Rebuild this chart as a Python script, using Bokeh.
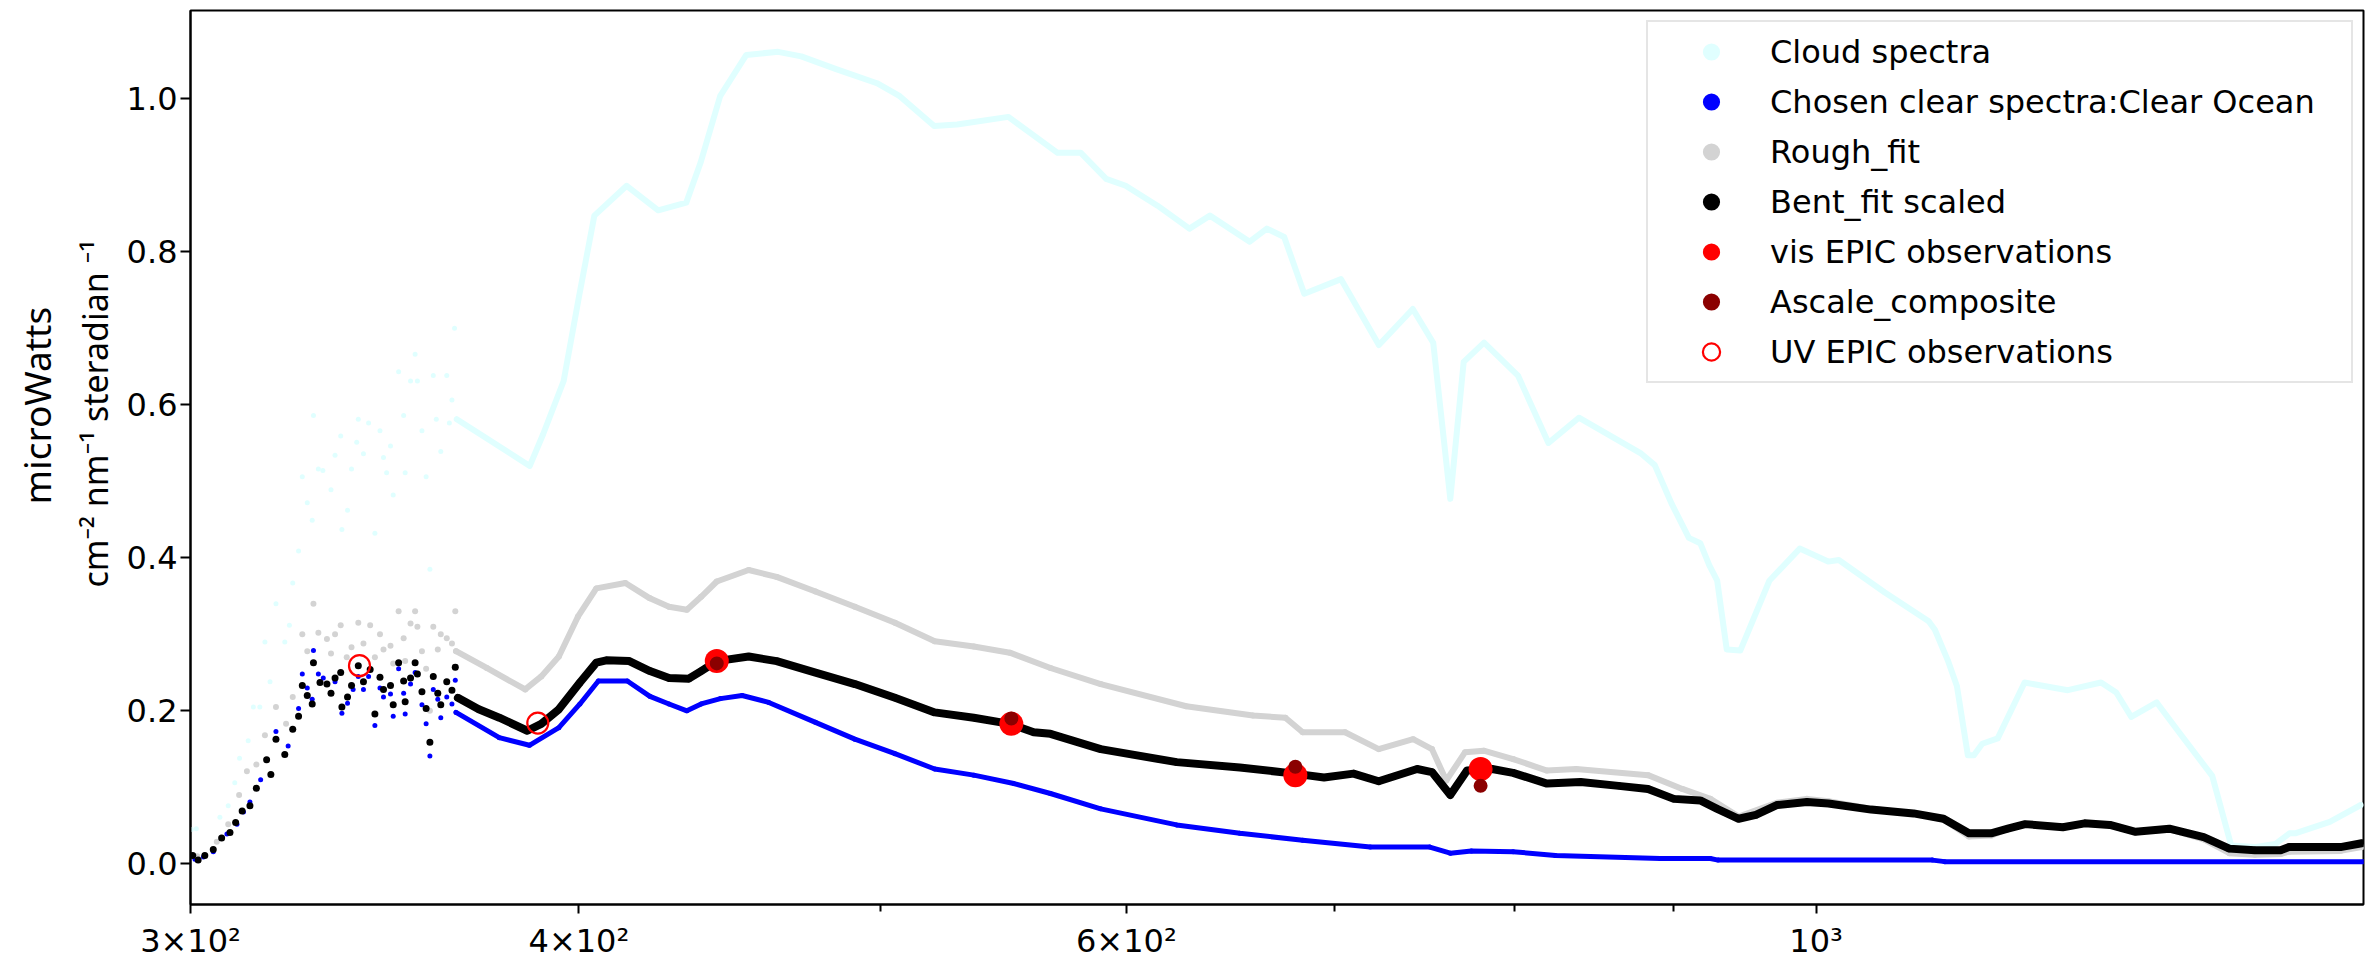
import numpy as np
from bokeh.plotting import figure
from bokeh.models import (Range1d, FixedTicker, PrintfTickFormatter, Legend,
                          LegendItem, Title)
from bokeh.embed import file_html
from bokeh.resources import INLINE

# ---------------- data (wavelength nm, microWatts cm-2 nm-1 sr-1) ----------------
cloud_nm = [300.2, 301.3, 306.6, 308.5, 310.0, 311.1, 313.1, 314.3, 315.8, 317.0, 318.2,
            319.6, 321.7, 322.8, 323.6, 325.0, 325.9, 327.1, 328.3, 328.6, 329.8, 330.9,
            332.9, 333.9, 335.3, 335.6, 337.0, 338.0, 339.3, 339.7, 341.0, 342.3, 343.9,
            345.2, 346.1, 346.9, 347.9, 348.6, 350.0, 351.3, 351.7, 353.1, 354.3, 354.9,
            356.1, 357.2, 358.2, 359.1, 359.9, 361.1, 362.7, 363.4, 364.1, 364.8,
            365.4, 385.7, 389.5, 395.5, 400.1, 404.6, 414.4, 424.2, 433.1, 437.7, 444.1,
            452.8, 463.6, 471.6, 484.2, 498.8, 507.3, 520.4, 529.3, 549.8, 570.2, 580.1,
            591.1, 599.7, 614.0, 628.7, 638.3, 657.4, 665.8, 674.4, 684.5, 703.4, 723.4,
            741.8, 753.1, 762.7, 770.3, 782.0, 801.9, 820.2, 838.9, 878.6, 887.4, 898.7,
            910.1, 917.8, 924.0, 929.4, 936.0, 945.5, 966.0, 988.0, 1009.0, 1017.0,
            1052.0, 1087.0, 1092.0, 1102.5, 1110.0, 1119.0, 1124.0, 1131.0, 1144.0,
            1167.0, 1205.0, 1235.0, 1249.0, 1263.0, 1287.0, 1309.0, 1341.0, 1360.0,
            1383.5, 1405.0, 1420.0, 1426.0, 1463.0, 1497.0]
cloud_val = [0.045, 0.046, 0.061, 0.076, 0.106, 0.138, 0.161, 0.205, 0.205, 0.290, 0.238,
             0.340, 0.290, 0.312, 0.367, 0.409, 0.506, 0.472, 0.449, 0.586, 0.516, 0.514,
             0.489, 0.534, 0.559, 0.437, 0.462, 0.516, 0.551, 0.581, 0.536, 0.576, 0.432,
             0.566, 0.531, 0.511, 0.546, 0.482, 0.643, 0.586, 0.511, 0.631, 0.666, 0.631,
             0.566, 0.506, 0.385, 0.638, 0.581, 0.539, 0.638, 0.576, 0.606, 0.700,
             0.581, 0.520, 0.561, 0.631, 0.743, 0.847, 0.886, 0.854, 0.864, 0.916, 1.003,
             1.057, 1.061, 1.055, 1.038, 1.020, 1.003, 0.964, 0.966, 0.976, 0.929, 0.929,
             0.895, 0.886, 0.860, 0.830, 0.847, 0.813, 0.830, 0.819, 0.745, 0.764, 0.678,
             0.725, 0.681, 0.477, 0.656, 0.681, 0.638, 0.550, 0.583, 0.536, 0.521, 0.470,
             0.426, 0.419, 0.390, 0.370, 0.280, 0.279, 0.370, 0.412, 0.395, 0.397,
             0.355, 0.317, 0.306, 0.266, 0.232, 0.142, 0.142, 0.157, 0.164,
             0.237, 0.227, 0.237, 0.224, 0.192, 0.211, 0.171, 0.115, 0.024,
             0.022, 0.026, 0.040, 0.040, 0.055, 0.077]

clear_nm = [301.0, 302.9, 305.1, 308.2, 310.5, 312.0, 313.5, 316.0, 319.6, 322.5, 325.0,
            325.9, 327.1, 328.3, 328.6, 329.8, 331.0, 333.9, 335.6, 337.0, 338.4, 339.7,
            341.0, 342.3, 343.9, 345.2, 346.1, 347.9, 348.6, 350.0, 351.3, 351.7, 353.1,
            354.3, 356.1, 357.2, 358.2, 359.1, 360.3, 361.1, 362.7, 364.1, 365.0,
            365.2, 377.1, 385.6, 394.1, 400.3, 405.8, 414.6, 421.6, 427.6, 433.3, 437.9,
            444.2, 451.4, 460.4, 476.6, 490.7, 505.5, 520.6, 535.9, 552.0, 567.2, 588.7,
            622.8, 652.6, 683.7, 718.8, 751.2, 762.7, 774.7, 799.0, 824.5, 891.0, 924.7,
            930.0, 1090.0, 1100.0, 1500.0]
clear_val = [0.006, 0.009, 0.016, 0.039, 0.052, 0.068, 0.081, 0.110, 0.173, 0.154, 0.203,
             0.248, 0.230, 0.215, 0.279, 0.248, 0.243, 0.238, 0.197, 0.210, 0.228, 0.245,
             0.228, 0.245, 0.181, 0.230, 0.218, 0.222, 0.193, 0.255, 0.223, 0.196, 0.235,
             0.250, 0.208, 0.183, 0.141, 0.228, 0.215, 0.191, 0.218, 0.209, 0.240,
             0.198, 0.165, 0.155, 0.178, 0.209, 0.239, 0.239, 0.219, 0.209, 0.200, 0.209,
             0.216, 0.220, 0.211, 0.185, 0.163, 0.144, 0.124, 0.116, 0.105, 0.092, 0.072,
             0.051, 0.040, 0.031, 0.022, 0.022, 0.014, 0.017, 0.016, 0.011, 0.007, 0.007,
             0.005, 0.005, 0.003, 0.003]

rough_nm = [301.5, 305.9, 308.5, 311.0, 312.8, 315.0, 317.0, 319.6, 322.0, 323.6, 325.9,
            327.1, 328.6, 329.8, 331.9, 332.9, 333.9, 335.3, 336.8, 338.0, 339.7, 341.0,
            342.7, 343.9, 345.2, 346.1, 347.9, 348.6, 350.0, 351.3, 351.7, 353.1, 354.3,
            354.9, 356.1, 357.2, 358.2, 359.1, 360.3, 361.1, 362.7, 364.1, 365.0,
            365.2, 373.6, 384.4, 389.0, 394.1, 399.7, 405.2, 414.0, 421.6, 427.6, 433.3,
            437.9, 443.0, 453.6, 463.1, 476.6, 490.7, 505.5, 520.6, 535.9, 550.4, 567.2,
            588.7, 627.2, 659.0, 675.0, 683.7, 705.5, 723.3, 742.0, 752.4, 760.4, 771.1,
            781.8, 799.0, 819.3, 837.2, 883.0, 905.7, 924.7, 944.3, 971.7, 993.3, 1009.2,
            1041.6, 1074.9, 1099.0, 1119.9, 1138.4, 1152.6, 1167.5, 1200.6, 1220.1,
            1243.2, 1267.0, 1299.1, 1332.6, 1358.1, 1384.1, 1410.6, 1419.5, 1474.6, 1498.0]
rough_val = [0.010, 0.029, 0.052, 0.090, 0.121, 0.130, 0.168, 0.205, 0.183, 0.218, 0.300,
             0.278, 0.340, 0.302, 0.294, 0.275, 0.300, 0.312, 0.270, 0.283, 0.315, 0.288,
             0.312, 0.270, 0.300, 0.280, 0.285, 0.262, 0.330, 0.295, 0.265, 0.314, 0.330,
             0.310, 0.278, 0.255, 0.200, 0.310, 0.280, 0.300, 0.295, 0.288, 0.330,
             0.278, 0.256, 0.228, 0.245, 0.271, 0.323, 0.360, 0.367, 0.347, 0.336, 0.332,
             0.349, 0.369, 0.384, 0.375, 0.356, 0.336, 0.315, 0.291, 0.284, 0.276, 0.256,
             0.235, 0.206, 0.194, 0.191, 0.172, 0.172, 0.150, 0.163, 0.150, 0.109, 0.146,
             0.148, 0.137, 0.122, 0.124, 0.116, 0.098, 0.085, 0.062, 0.080, 0.085, 0.082,
             0.072, 0.066, 0.058, 0.036, 0.037, 0.046, 0.052, 0.049, 0.053,
             0.050, 0.042, 0.045, 0.032, 0.014, 0.012, 0.013, 0.016, 0.017, 0.022]

bent_nm = [300.5, 301.7, 303.2, 305.1, 307.0, 308.9, 310.2, 311.7, 313.5, 315.0, 317.4,
           318.4, 319.6, 321.7, 323.6, 325.0, 325.9, 327.1, 328.3, 328.6, 330.2, 331.9,
           332.9, 333.9, 335.3, 335.6, 337.0, 338.0, 339.7, 341.0, 342.7, 343.9, 345.2,
           346.1, 347.9, 348.6, 350.0, 351.3, 351.7, 353.1, 354.3, 354.9, 356.1, 357.2,
           358.2, 359.1, 360.3, 361.1, 362.7, 364.1, 365.0,
           365.7, 371.4, 377.1, 385.0, 389.0, 394.1, 400.3, 405.2, 408.2, 415.2, 421.6,
           427.6, 433.9, 437.9, 443.0, 453.6, 463.1, 476.6, 490.7, 505.5, 520.6, 535.9,
           550.4, 560.2, 567.2, 588.7, 622.8, 652.6, 679.6, 694.6, 709.9, 723.3, 744.2,
           752.4, 762.7, 772.2, 786.7, 799.0, 819.3, 840.0, 864.0, 883.0, 900.0, 917.8,
           929.4, 944.3, 956.4, 971.7, 993.3, 1009.2, 1041.6, 1074.9, 1099.0, 1119.9,
           1138.4, 1152.6, 1167.5, 1200.6, 1220.1, 1243.2, 1267.0, 1299.1, 1332.6,
           1358.1, 1384.1, 1410.6, 1419.5, 1474.6, 1498.0]
bent_val = [0.011, 0.005, 0.011, 0.019, 0.034, 0.041, 0.054, 0.069, 0.076, 0.099, 0.136,
            0.117, 0.163, 0.143, 0.176, 0.193, 0.233, 0.220, 0.209, 0.263, 0.237, 0.235,
            0.223, 0.243, 0.250, 0.205, 0.218, 0.233, 0.259, 0.238, 0.254, 0.196, 0.244,
            0.228, 0.233, 0.208, 0.263, 0.239, 0.212, 0.243, 0.263, 0.248, 0.225, 0.203,
            0.159, 0.245, 0.223, 0.208, 0.238, 0.227, 0.257,
            0.217, 0.202, 0.191, 0.174, 0.183, 0.202, 0.237, 0.263, 0.266, 0.265, 0.252,
            0.243, 0.242, 0.252, 0.265, 0.271, 0.265, 0.250, 0.235, 0.217, 0.198, 0.191,
            0.183, 0.172, 0.170, 0.150, 0.133, 0.126, 0.118, 0.113, 0.118, 0.108, 0.124,
            0.120, 0.090, 0.122, 0.124, 0.119, 0.105, 0.107, 0.102, 0.098, 0.085, 0.083,
            0.072, 0.059, 0.064, 0.077, 0.081, 0.079, 0.071, 0.066, 0.059, 0.040,
            0.040, 0.046, 0.052, 0.048, 0.053, 0.051, 0.042, 0.046, 0.035,
            0.020, 0.018, 0.018, 0.022, 0.022, 0.027]

vis_nm = [443, 551, 680, 780]
vis_val = [0.265, 0.183, 0.116, 0.124]
ascale_nm = [443, 551, 680, 780]
ascale_val = [0.262, 0.190, 0.127, 0.102]
uv_nm = [340, 388]
uv_val = [0.259, 0.184]

x_ticks = [300, 400, 600, 1000]
x_minor_ticks = [500, 700, 800, 900]
x_tick_labels = {300: "3×10²", 400: "4×10²", 600: "6×10²", 1000: "10³"}
y_ticks = [0.0, 0.2, 0.4, 0.6, 0.8, 1.0]

SPLIT = 365.1  # scattered UV points below, dense continuous spectrum above

# ---------------- figure ----------------
p = figure(width=2369, height=962, x_axis_type="log",
           x_range=Range1d(300, 1500), y_range=Range1d(-0.053, 1.115),
           output_backend="svg", toolbar_location=None,
           min_border_left=190, min_border_right=6, min_border_top=10,
           min_border_bottom=52)
p.grid.visible = False
p.outline_line_color = "black"
p.outline_line_width = 2
p.background_fill_color = "white"
p.border_fill_color = "white"


def cont(nm, val):
    nm = np.asarray(nm, dtype=float)
    val = np.asarray(val, dtype=float)
    m = nm >= SPLIT
    return nm[m], val[m]


series = [
    (cloud_nm, cloud_val, "#E0FFFF", 6, 5),
    (clear_nm, clear_val, "#0000FF", 5, 5),
    (rough_nm, rough_val, "#D3D3D3", 6, 6),
    (bent_nm, bent_val, "#000000", 8, 7),
]
scat = []
for nm, val, col, lw, ms in series:
    cx, cy = cont(nm, val)
    p.line(cx, cy, line_color=col, line_width=lw, line_join="round", line_cap="round")
    r = p.scatter(nm, val, marker="circle", size=ms, fill_color=col, line_color=None)
    scat.append(r)

r_vis = p.scatter(vis_nm, vis_val, marker="circle", size=24, fill_color="#FF0000",
                  line_color=None)
r_asc = p.scatter(ascale_nm, ascale_val, marker="circle", size=14, fill_color="#8B0000",
                  line_color=None)
r_uv = p.scatter(uv_nm, uv_val, marker="circle", size=21, fill_color=None,
                 line_color="#FF0000", line_width=2.2)

# ---------------- axes ----------------
xa = p.xaxis[0]
xa.ticker = FixedTicker(ticks=x_ticks, minor_ticks=x_minor_ticks)
xa.major_label_overrides = x_tick_labels
xa.major_label_text_font = "DejaVu Sans"
xa.major_label_text_font_size = "32px"
xa.major_label_text_color = "black"
xa.major_label_standoff = 8
xa.major_tick_out = 9
xa.major_tick_in = 0
xa.minor_tick_out = 7
xa.minor_tick_in = 0
xa.major_tick_line_width = 2
xa.minor_tick_line_width = 2
xa.major_tick_line_color = "black"
xa.minor_tick_line_color = "black"
xa.axis_line_color = "black"
xa.axis_line_width = 2

ya = p.yaxis[0]
ya.ticker = FixedTicker(ticks=y_ticks, minor_ticks=[])
ya.formatter = PrintfTickFormatter(format="%.1f")
ya.major_label_text_font = "DejaVu Sans"
ya.major_label_text_font_size = "32px"
ya.major_label_text_color = "black"
ya.major_label_standoff = 3
ya.major_tick_out = 10
ya.major_tick_in = 0
ya.major_tick_line_width = 2
ya.major_tick_line_color = "black"
ya.axis_line_color = "black"
ya.axis_line_width = 2

# y-axis label: two stacked lines left of the axis (start measured from frame bottom)
t2 = Title(text="cm⁻² nm⁻¹ steradian ⁻¹", align="left", offset=317, standoff=12,
           text_font="Noto Sans", text_font_size="34px", text_font_style="normal",
           text_color="black")
p.add_layout(t2, "left")
t1 = Title(text="microWatts", align="left", offset=400, standoff=3,
           text_font="Noto Sans", text_font_size="37px", text_font_style="normal",
           text_color="black")
p.add_layout(t1, "left")

# ---------------- legend ----------------
names = ["Cloud spectra", "Chosen clear spectra:Clear Ocean", "Rough_fit",
         "Bent_fit scaled", "vis EPIC observations", "Ascale_composite",
         "UV EPIC observations"]
rends = scat + [r_vis, r_asc, r_uv]
legend = Legend(items=[LegendItem(label=n, renderers=[r]) for n, r in zip(names, rends)],
                location="top_right")
legend.margin = 10
legend.padding = 8
legend.glyph_width = 110
legend.glyph_height = 43
legend.label_height = 43
legend.label_width = 573
legend.label_standoff = 4
legend.spacing = 7
legend.label_text_font = "DejaVu Sans"
legend.label_text_font_size = "32px"
legend.label_text_color = "black"
legend.border_line_color = "#CCCCCC"
legend.border_line_width = 2
legend.background_fill_color = "white"
legend.background_fill_alpha = 0.8
p.add_layout(legend, "center")

open("out.html", "w").write(file_html(p, INLINE))
